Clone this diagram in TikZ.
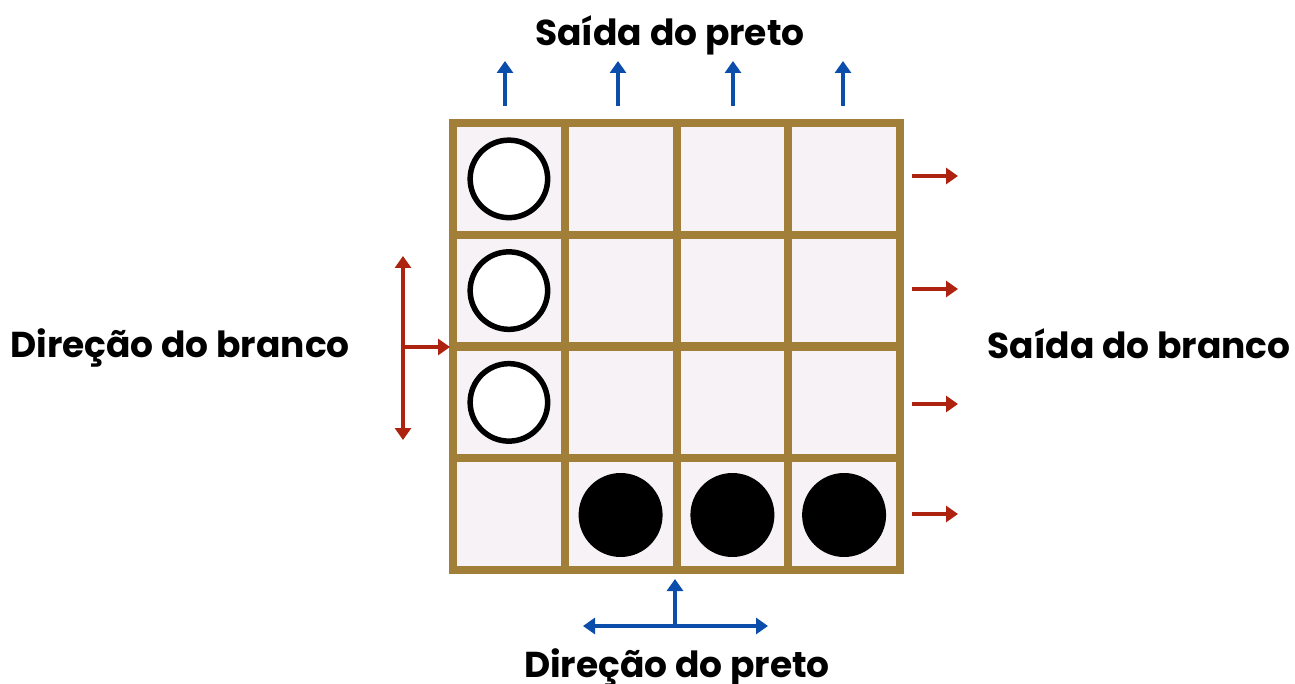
\documentclass[tikz,border=0pt]{standalone}
\usepackage{fontspec}
\setmainfont{Poppins}
\usetikzlibrary{arrows.meta}
\definecolor{gridc}{HTML}{A17F39}
\definecolor{cellc}{HTML}{F7F2F6}
\definecolor{bluec}{HTML}{0B4DAB}
\definecolor{redc}{HTML}{AE2210}
\tikzset{
  gridline/.style={draw=gridc, line width=8pt, line cap=rect},
  whitestone/.style={circle, draw=black, fill=white, line width=5.5pt, minimum size=77.5pt, inner sep=0pt},
  blackstone/.style={circle, fill=black, minimum size=84pt, inner sep=0pt},
  bluearrow/.style={draw=bluec, line width=4pt, -{Triangle[length=12pt,width=16pt]}},
  redarrow/.style={draw=redc, line width=4pt, -{Triangle[length=12pt,width=16pt]}},
  bluearrows/.style={draw=bluec, line width=4pt, {Triangle[length=12pt,width=16pt]}-{Triangle[length=12pt,width=16pt]}},
  redarrows/.style={draw=redc, line width=4pt, {Triangle[length=12pt,width=16pt]}-{Triangle[length=12pt,width=16pt]}},
  lbl/.style={font=\fontsize{36}{40}\selectfont\bfseries, inner sep=0pt, anchor=base}
}
\begin{document}
\begin{tikzpicture}[x=1pt,y=-1pt]
\useasboundingbox (0,0) rectangle (1295,684);
% board
\fill[cellc] (453,123) rectangle (900,570);
\foreach \i in {0,...,4} {
  \draw[gridline] (453+\i*111.75,123) -- (453+\i*111.75,570);
  \draw[gridline] (453,123+\i*111.75) -- (900,123+\i*111.75);
}
% stones
\node[whitestone] (w1) at (508.9,178.9) {};
\node[whitestone] (w2) at (508.9,290.6) {};
\node[whitestone] (w3) at (508.9,402.4) {};
\node[blackstone] (b1) at (620.6,515) {};
\node[blackstone] (b2) at (732.4,515) {};
\node[blackstone] (b3) at (844.1,515) {};
% labels
\node[lbl] (sp) at (670,46) {Saída do preto};
\node[lbl] (db) at (180,357) {Direção do branco};
\node[lbl] (sb) at (1139,358) {Saída do branco};
\node[lbl] (dp) at (677,677) {Direção do preto};
% top blue arrows
\foreach \x [count=\k] in {505,618,733,843} {
  \coordinate (ts\k) at (\x,106);
  \coordinate (te\k) at (\x,61);
  \draw[bluearrow] (ts\k) -- (te\k);
}
% right red arrows
\foreach \y [count=\k] in {176,289,404,514} {
  \coordinate (rs\k) at (912,\y);
  \coordinate (re\k) at (958,\y);
  \draw[redarrow] (rs\k) -- (re\k);
}
% left direction arrows
\coordinate (lt) at (403,256);
\coordinate (lb) at (403,440);
\coordinate (lm) at (403,347);
\coordinate (lr) at (450,347);
\draw[redarrows] (lt) -- (lb);
\draw[redarrow] (lm) -- (lr);
% bottom direction arrows
\coordinate (bl) at (583,626);
\coordinate (br) at (768,626);
\coordinate (bm) at (675,626);
\coordinate (bt) at (675,579);
\draw[bluearrows] (bl) -- (br);
\draw[bluearrow] (bm) -- (bt);
\end{tikzpicture}
\end{document}
